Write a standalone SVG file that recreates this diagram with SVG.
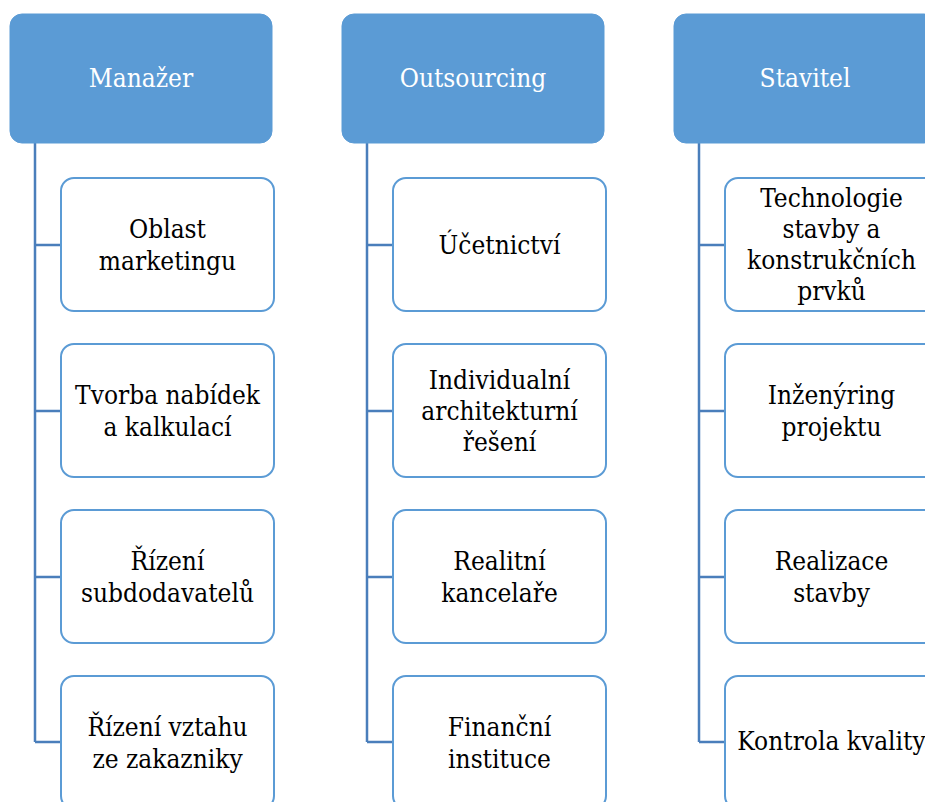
<svg xmlns="http://www.w3.org/2000/svg" width="925" height="802" viewBox="0 0 925 802">
<style>
.hdr{fill:#5B9BD5;stroke:#5B9BD5;stroke-width:1}
.box{fill:#FFFFFF;stroke:#5B9BD5;stroke-width:2}
text{font-family:'DejaVu Serif Condensed','DejaVu Serif',serif;font-stretch:condensed;font-size:26px;text-anchor:middle}
.ht{fill:#FFFFFF}
.t{fill:#000000}
.c{fill:none;stroke:#4A7EBB;stroke-width:2.5}
</style>
<rect width="925" height="802" fill="#FFFFFF"/>
<g id="connectors">
<path class="c" d="M35,143 V742 M35,245 H61 M35,411 H61 M35,577 H61 M35,742 H61"/>
<path class="c" d="M367,143 V742 M367,245 H393 M367,411 H393 M367,577 H393 M367,742 H393"/>
<path class="c" d="M699,143 V742 M699,245 H725 M699,411 H725 M699,577 H725 M699,742 H725"/>
</g>
<g id="manazer"><rect class="hdr" x="10" y="14" width="262" height="129" rx="12"/><text class="ht" x="141" y="87">Manažer</text></g>
<g id="outsourcing"><rect class="hdr" x="342" y="14" width="262" height="129" rx="12"/><text class="ht" x="473" y="87">Outsourcing</text></g>
<g id="stavitel"><rect class="hdr" x="674" y="14" width="262" height="129" rx="12"/><text class="ht" x="805" y="87">Stavitel</text></g>

<g id="oblast"><rect class="box" x="61" y="178" width="213" height="133" rx="13"/><text class="t" x="167.5" y="238">Oblast</text><text class="t" x="167.5" y="270">marketingu</text></g>
<g id="tvorba"><rect class="box" x="61" y="344" width="213" height="133" rx="13"/><text class="t" x="167.5" y="404">Tvorba nabídek</text><text class="t" x="167.5" y="436">a kalkulací</text></g>
<g id="rizeni-sub"><rect class="box" x="61" y="510" width="213" height="133" rx="13"/><text class="t" x="167.5" y="570">Řízení</text><text class="t" x="167.5" y="602">subdodavatelů</text></g>
<g id="rizeni-vztahu"><rect class="box" x="61" y="676" width="213" height="133" rx="13"/><text class="t" x="167.5" y="736">Řízení vztahu</text><text class="t" x="167.5" y="768">ze zakazniky</text></g>

<g id="ucetnictvi"><rect class="box" x="393" y="178" width="213" height="133" rx="13"/><text class="t" x="499.5" y="254">Účetnictví</text></g>
<g id="individualni"><rect class="box" x="393" y="344" width="213" height="133" rx="13"/><text class="t" x="499.5" y="389">Individualní</text><text class="t" x="499.5" y="420">architekturní</text><text class="t" x="499.5" y="451">řešení</text></g>
<g id="realitni"><rect class="box" x="393" y="510" width="213" height="133" rx="13"/><text class="t" x="499.5" y="570">Realitní</text><text class="t" x="499.5" y="602">kancelaře</text></g>
<g id="financni"><rect class="box" x="393" y="676" width="213" height="133" rx="13"/><text class="t" x="499.5" y="736">Finanční</text><text class="t" x="499.5" y="768">instituce</text></g>

<g id="technologie"><rect class="box" x="725" y="178" width="213" height="133" rx="13"/><text class="t" x="831.5" y="207">Technologie</text><text class="t" x="831.5" y="238">stavby a</text><text class="t" x="831.5" y="269">konstrukčních</text><text class="t" x="831.5" y="300">prvků</text></g>
<g id="inzenyring"><rect class="box" x="725" y="344" width="213" height="133" rx="13"/><text class="t" x="831.5" y="404">Inženýring</text><text class="t" x="831.5" y="436">projektu</text></g>
<g id="realizace"><rect class="box" x="725" y="510" width="213" height="133" rx="13"/><text class="t" x="831.5" y="570">Realizace</text><text class="t" x="831.5" y="602">stavby</text></g>
<g id="kontrola"><rect class="box" x="725" y="676" width="213" height="133" rx="13"/><text class="t" x="831.5" y="750">Kontrola kvality</text></g>
</svg>
